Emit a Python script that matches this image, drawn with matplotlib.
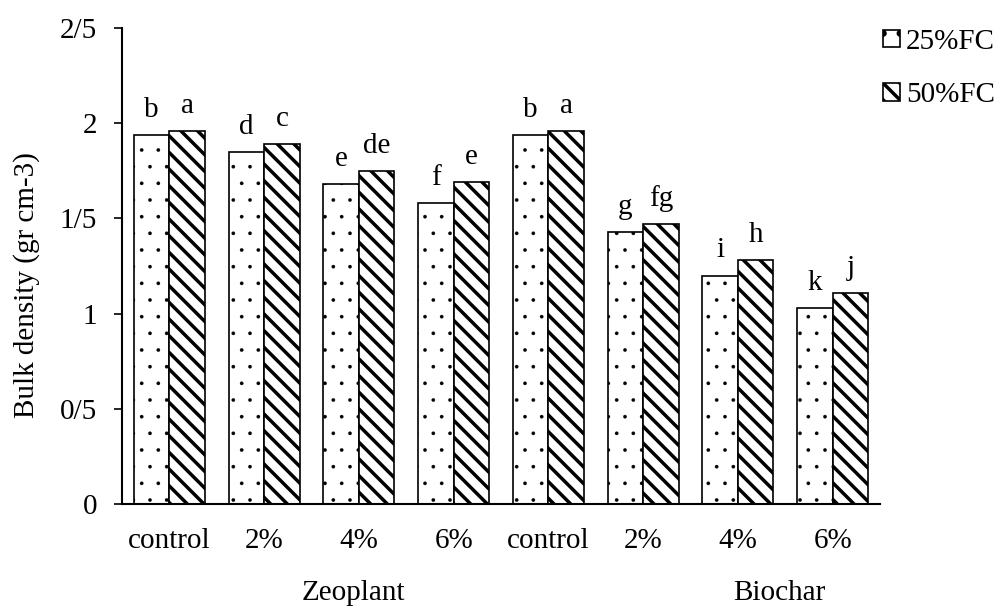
import matplotlib.pyplot as plt
import matplotlib.transforms as mtransforms
import numpy as np

plt.rcParams['font.family'] = ['Liberation Serif', 'DejaVu Serif']

# data
categories = ['control', '2%', '4%', '6%', 'control', '2%', '4%', '6%']
fc25 = [1.94, 1.85, 1.68, 1.58, 1.94, 1.43, 1.20, 1.03]
fc50 = [1.96, 1.89, 1.75, 1.69, 1.96, 1.47, 1.28, 1.11]
letters25 = ['b', 'd', 'e', 'f', 'b', 'g', 'i', 'k']
letters50 = ['a', 'c', 'de', 'e', 'a', 'fg', 'h', 'j']
groups = ['Zeoplant', 'Biochar']
group_pos = [1.94, 6.44]
ytick_vals = [0, 0.5, 1, 1.5, 2, 2.5]
ytick_labels = ['0', '0/5', '1', '1/5', '2', '2/5']

fs = 21

fig = plt.figure(figsize=(10.06, 6.06), dpi=100)
ax = fig.add_axes([0.1213, 0.1683, 0.7535, 0.7855])

x = np.arange(len(categories))
w = 0.375

plt.rcParams['hatch.linewidth'] = 0.2
b1 = ax.bar(x - w / 2, fc25, w, color='white', edgecolor='black',
            hatch='.', linewidth=1.2, label='25%FC')
plt.rcParams['hatch.linewidth'] = 2.5
b2 = ax.bar(x + w / 2, fc50, w, color='white', edgecolor='black',
            hatch='\\\\', linewidth=1.2, label='50%FC')

# significance letters
for xi, v, l in zip(x - w / 2, fc25, letters25):
    ax.annotate(l, (xi, v), xytext=(0, 13), textcoords='offset points',
                ha='center', va='baseline', fontsize=fs)
for xi, v, l in zip(x + w / 2, fc50, letters50):
    ax.annotate(l, (xi, v), xytext=(0, 13), textcoords='offset points',
                ha='center', va='baseline', fontsize=fs)

ax.set_xlim(-0.5, len(categories) - 0.5)
ax.set_ylim(0, 2.5)
ax.set_xticks(x)
ax.set_xticklabels(categories, fontsize=fs)
ax.set_yticks(ytick_vals)
ax.set_yticklabels(ytick_labels, fontsize=fs)
ax.tick_params(axis='x', length=0, pad=17)
ax.tick_params(axis='y', length=6, width=1.2, direction='out', pad=12)
for s in ['top', 'right']:
    ax.spines[s].set_visible(False)
for s in ['left', 'bottom']:
    ax.spines[s].set_linewidth(1.5)

ax.set_ylabel('Bulk density (gr cm-3)', fontsize=fs, labelpad=14, y=0.46)

# group labels under the categories
trans = mtransforms.blended_transform_factory(ax.transData, fig.transFigure)
for g, gx in zip(groups, group_pos):
    ax.text(gx, 0.01, g, transform=trans, ha='center', va='baseline', fontsize=fs)

fig.legend(handles=[b1, b2], loc='upper left', bbox_to_anchor=(0.866, 0.972),
           frameon=False, fontsize=fs, handlelength=0.6, handleheight=0.55,
           handletextpad=0.2, labelspacing=0.95, borderaxespad=0)

fig.savefig('out.png', dpi=100)
